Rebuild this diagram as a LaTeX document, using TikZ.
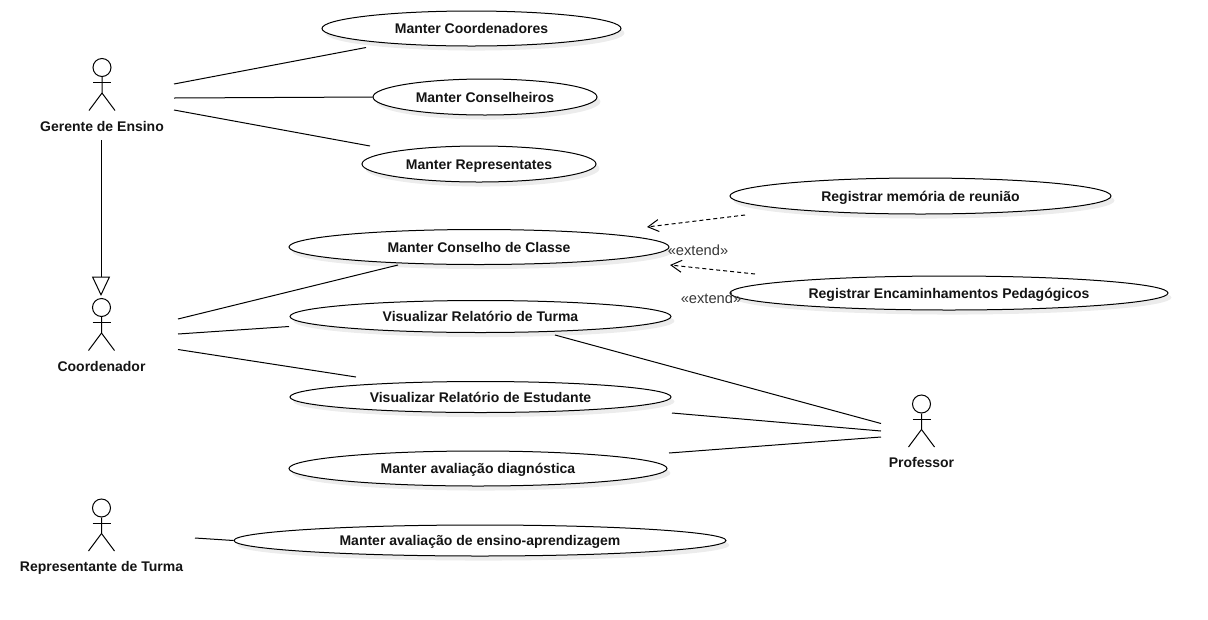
\documentclass[tikz,border=0pt]{standalone}
\usepackage{fontspec}
\setmainfont{Liberation Sans}
\usepackage{xcolor}
\usetikzlibrary{arrows.meta,shapes.geometric,shadows}
\definecolor{ucline}{RGB}{0,0,0}
\definecolor{uctext}{RGB}{20,20,20}
\definecolor{ucshadow}{RGB}{236,236,236}
\tikzstyle{usecase} = [ellipse, draw=ucline, fill=white, line width=0.75pt, inner sep=0pt, text=uctext, text height=10pt, text depth=2pt, font=\bfseries\fontsize{10.5}{12}\selectfont, copy shadow={shadow xshift=2.6pt, shadow yshift=-3.4pt, fill=ucshadow, draw=none}]
\tikzstyle{assoc} = [line width=0.75pt, color=ucline]
\tikzstyle{extendarrow} = [line width=0.75pt, dash pattern=on 3pt off 2.25pt, color=ucline, -{Straight Barb[length=8pt,width=9pt]}]
\tikzstyle{inherit} = [line width=0.75pt, color=ucline, -{Triangle[open,length=14.5pt,width=13.5pt,fill=white]}]
\tikzstyle{actorlabel} = [text=uctext, inner sep=0pt, text height=10pt, text depth=2pt, font=\bfseries\fontsize{10.5}{12}\selectfont]
\tikzstyle{stereotype} = [text=uctext!85, inner sep=0pt, font=\fontsize{11}{13}\selectfont]
% actor: name, x, y of the head, label, label y
\newcommand{\actorfig}[5]{
\node[circle, draw=ucline, line width=0.75pt, minimum size=13.5pt, inner sep=0pt] (#1) at (#2,#3) {};
\draw[assoc] (#1.south) -- ++(0,16) -- ++(-13,17.5);
\draw[assoc] (#1.south) ++(0,16) -- ++(13,17.5);
\draw[assoc] (#1.south) ++(-9,5.5) -- ++(18,0);
\node[actorlabel] (#1label) at (#2,#5) {#4};
}
\begin{document}
\begin{tikzpicture}[x=0.75pt, y=-0.75pt]
\useasboundingbox (0,0) rectangle (1208,619);
% Use cases
\node[usecase, minimum width=224.25pt, minimum height=26.25pt] (coordenadores) at (471.5,28.5) {Manter Coordenadores};
\node[usecase, minimum width=168pt, minimum height=27pt] (conselheiros) at (485,97) {Manter Conselheiros};
\node[usecase, minimum width=175.5pt, minimum height=27pt] (representates) at (479,164) {Manter Representates};
\node[usecase, minimum width=285.75pt, minimum height=27pt] (memoria) at (920.5,196) {Registrar memória de reunião};
\node[usecase, minimum width=285pt, minimum height=26.25pt] (conselho) at (479,247) {Manter Conselho de Classe};
\node[usecase, minimum width=328.5pt, minimum height=25.5pt] (encaminhamentos) at (949,293) {Registrar Encaminhamentos Pedagógicos};
\node[usecase, minimum width=285.75pt, minimum height=24pt] (turma) at (480.5,316.5) {Visualizar Relatório de Turma};
\node[usecase, minimum width=285.75pt, minimum height=23.25pt] (estudante) at (480.5,397) {Visualizar Relatório de Estudante};
\node[usecase, minimum width=283.5pt, minimum height=26.25pt] (diagnostica) at (478,468.5) {Manter avaliação diagnóstica};
\node[usecase, minimum width=369pt, minimum height=23.25pt] (aprendizagem) at (480,540.5) {Manter avaliação de ensino-aprendizagem};

% Actors
\actorfig{gerente}{102}{67.5}{Gerente de Ensino}{126}
\actorfig{coordenador}{101.5}{307.5}{Coordenador}{366}
\actorfig{professor}{921.5}{404}{Professor}{462}
\actorfig{representante}{101.5}{508}{Representante de Turma}{566}

% Free ends of the connectors
\coordinate (g1) at (174,84);
\coordinate (g2) at (174,98);
\coordinate (g3) at (174,110);
\coordinate (g4) at (101,140);
\coordinate (c1) at (178,319);
\coordinate (c2) at (178,334);
\coordinate (c3) at (178,349.5);
\coordinate (p1) at (881,423.5);
\coordinate (p2) at (881,431);
\coordinate (p3) at (881,437);
\coordinate (r1) at (195,538);

% Associations
\draw[assoc] (g1) -- (366,47.5) coordinate (coordenadores1);
\draw[assoc] (g2) -- (conselheiros.west);
\draw[assoc] (g3) -- (370,146) coordinate (representates1);
\draw[assoc] (c1) -- (398,265) coordinate (conselho1);
\draw[assoc] (c2) -- (289,326.5) coordinate (turma1);
\draw[assoc] (c3) -- (356,377) coordinate (estudante1);
\draw[assoc] (p1) -- (555,335) coordinate (turma2);
\draw[assoc] (p2) -- (672,413) coordinate (estudante2);
\draw[assoc] (p3) -- (669,453) coordinate (diagnostica1);
\draw[assoc] (r1) -- (aprendizagem.west);

% Inheritance
\coordinate (c0) at (101,296);
\draw[inherit] (g4) -- (c0);

% Extends
\coordinate (m1) at (745,215);
\coordinate (e1) at (755,274);
\draw[extendarrow] (m1) -- (647,227);
\draw[extendarrow] (e1) -- (670,265);
\node[stereotype] (extend1) at (698,250) {«extend»};
\node[stereotype] (extend2) at (711,298) {«extend»};
\end{tikzpicture}
\end{document}
